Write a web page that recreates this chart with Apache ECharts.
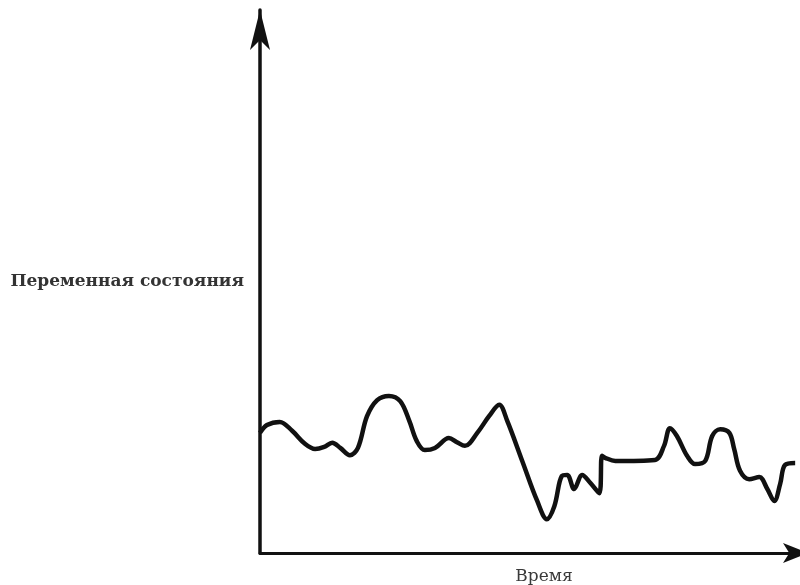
<!DOCTYPE html>
<html>
<head>
<meta charset="utf-8">
<script src="https://cdn.jsdelivr.net/npm/echarts@6/dist/echarts.min.js"></script>
<style>
html,body{margin:0;padding:0;background:#fff;overflow:hidden;}
#chart{width:800px;height:585px;}
</style>
</head>
<body>
<div id="chart"></div>
<script>
// Time axis (arbitrary units) and state variable (arbitrary units)
const timeValues = [0,1.3,3.7,6.0,8.4,10.3,12.0,13.5,15.0,16.8,18.3,20.0,21.9,24.1,26.2,27.9,29.3,30.8,32.7,35.3,36.8,38.3,40.6,42.8,44.7,46.2,49.0,51.8,53.6,55.0,56.4,57.4,58.7,60.2,61.7,63.4,63.9,64.5,66.4,73.8,75.5,76.6,77.9,79.8,81.3,83.2,84.5,86.0,87.7,88.6,89.7,91.4,93.3,94.8,96.1,97.2,98.1,100];
const stateValues = [23.1,24.6,25.2,23.5,21.0,20.0,20.4,21.2,20.2,18.8,20.2,26.3,29.4,30.2,29.2,25.4,21.5,19.8,20.2,22.1,21.3,20.6,23.1,26.3,28.5,25.4,17.7,10.0,6.5,9.0,14.8,15.0,12.3,15.0,13.5,11.5,18.7,18.3,17.7,17.9,20.6,24.0,22.5,18.7,17.1,17.7,22.5,23.8,23.1,20.0,15.8,14.2,14.6,12.3,10.0,13.3,16.9,17.3];
const xAxisName = 'Время';
const yAxisName = 'Переменная состояния';

const points = timeValues.map((t, i) => [t, stateValues[i]]);

const chart = echarts.init(document.getElementById('chart'), null, {renderer: 'canvas'});
chart.setOption({
  backgroundColor: '#ffffff',
  animation: false,
  grid: {left: 260, right: -8, top: 10, bottom: 32, outerBoundsMode: 'none', containLabel: false},
  xAxis: {
    type: 'value', min: 0, max: 102.4,
    name: xAxisName, nameLocation: 'middle', nameGap: 15,
    nameTextStyle: {fontFamily: 'DejaVu Serif', fontSize: 17, color: '#3a3a3a', padding: [0, 0, 0, 20]},
    axisLine: {show: true, symbol: ['none', 'arrow'], symbolSize: [15, 25], lineStyle: {color: '#111', width: 3}},
    axisTick: {show: false}, axisLabel: {show: false}, splitLine: {show: false}
  },
  yAxis: {
    type: 'value', min: 0, max: 104.4,
    name: yAxisName, nameLocation: 'middle', nameRotate: 0, nameGap: 16,
    nameTextStyle: {fontFamily: 'DejaVu Serif', fontSize: 17, fontWeight: 'bold', color: '#333', align: 'right'},
    axisLine: {show: true, symbol: ['none', 'arrow'], symbolSize: [15, 40], lineStyle: {color: '#111', width: 3.5}},
    axisTick: {show: false}, axisLabel: {show: false}, splitLine: {show: false}
  },
  series: [{
    type: 'line',
    data: points,
    smooth: 0.35,
    showSymbol: false,
    lineStyle: {color: '#111', width: 4.5},
    clip: false
  }]
});
</script>
</body>
</html>
